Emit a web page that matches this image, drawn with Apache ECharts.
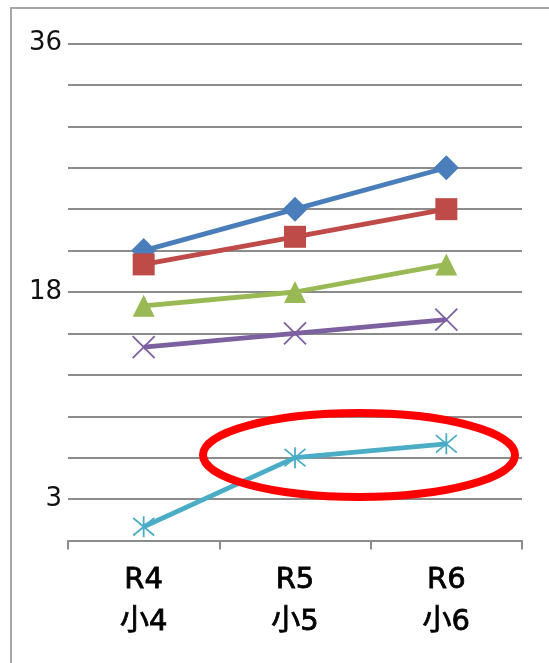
<!DOCTYPE html>
<html>
<head>
<meta charset="utf-8">
<style>
  html, body { margin: 0; padding: 0; background: #fff; }
  #chart { width: 549px; height: 663px; }
</style>
<script src="https://cdn.jsdelivr.net/npm/echarts@6/dist/echarts.min.js"></script>
</head>
<body>
<div id="chart"></div>
<script>
// Categories along the x axis (year / grade)
const categories = ['R4\n小4', 'R5\n小5', 'R6\n小6'];

// Series values
const seriesBlue   = [21, 24, 27];
const seriesRed    = [20, 22, 24];
const seriesGreen  = [17, 18, 20];
const seriesPurple = [14, 15, 16];
const seriesCyan   = [1, 6, 7];

// Y-axis labels that are printed (others are left blank)
const shownYLabels = [36, 18, 3];

const crossPath = 'path://M0,0L10,10M10,0L0,10';
const starPath  = 'path://M0,0L10,10M10,0L0,10M5,-1L5,11';

function lineSeries(name, data, color, symbol, size, strokeMarker) {
  return {
    name: name,
    type: 'line',
    data: data,
    symbol: symbol,
    symbolSize: size,
    showAllSymbol: true,
    lineStyle: { color: color, width: 4.8 },
    itemStyle: strokeMarker
      ? { color: 'rgba(0,0,0,0)', borderColor: color, borderWidth: 1.8 }
      : { color: color, borderWidth: 0 },
    emphasis: { disabled: true },
    animation: false
  };
}

const chart = echarts.init(document.getElementById('chart'), null, { renderer: 'canvas' });

chart.setOption({
  backgroundColor: '#ffffff',
  animation: false,
  grid: { left: 68, right: 27, top: 43.5, bottom: 122.5, containLabel: false },
  xAxis: {
    type: 'category',
    data: categories,
    boundaryGap: true,
    axisLine: { show: true, lineStyle: { color: '#8c8c8c', width: 2 } },
    axisTick: { show: true, length: 9, alignWithLabel: false, lineStyle: { color: '#8c8c8c', width: 2 } },
    axisLabel: {
      margin: 19,
      color: '#000',
      fontFamily: 'DejaVu Sans, Noto Sans CJK JP',
      fontSize: 29,
      fontWeight: 'normal',
      textBorderColor: '#000',
      textBorderWidth: 0.8,
      lineHeight: 42
    },
    splitLine: { show: false }
  },
  yAxis: {
    type: 'value',
    min: 0,
    max: 36,
    interval: 3,
    axisLine: { show: false },
    axisTick: { show: false },
    axisLabel: {
      margin: 6,
      color: '#111',
      fontFamily: 'DejaVu Sans',
      fontSize: 26,
      formatter: function (v) { return shownYLabels.indexOf(v) >= 0 ? String(v) : ''; }
    },
    splitLine: { show: true, lineStyle: { color: '#8c8c8c', width: 2 } }
  },
  series: [
    lineSeries('blue', seriesBlue, '#4A7EBB', 'diamond', 25, false),
    lineSeries('red', seriesRed, '#BE4B48', 'rect', 22, false),
    lineSeries('green', seriesGreen, '#98B954', 'triangle', 22, false),
    lineSeries('purple', seriesPurple, '#7D60A0', crossPath, 22, true),
    lineSeries('cyan', seriesCyan, '#4BACC6', starPath, 21, true)
  ],
  graphic: [
    {
      type: 'rect',
      shape: { x: 11, y: 8, width: 600, height: 700 },
      style: { fill: 'none', stroke: '#a6a6a6', lineWidth: 2 },
      silent: true,
      z: 100
    },
    {
      type: 'ellipse',
      shape: { cx: 359, cy: 455, rx: 156, ry: 42 },
      style: { fill: 'none', stroke: '#ff0000', lineWidth: 8 },
      silent: true,
      z: 100
    }
  ]
});
</script>
</body>
</html>
